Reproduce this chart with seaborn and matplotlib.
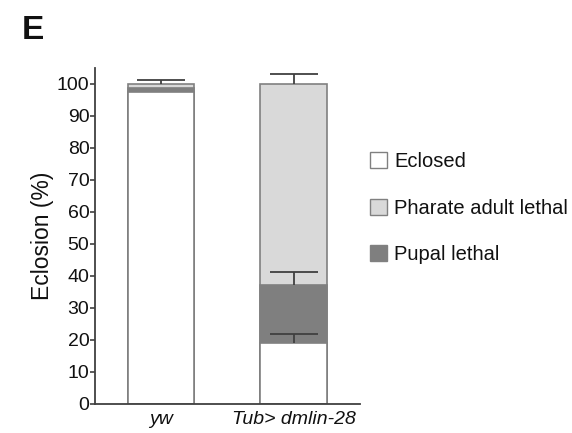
import matplotlib
matplotlib.use("Agg")
import matplotlib.pyplot as plt
import seaborn as sns
import pandas as pd
from matplotlib.patches import Patch

sns.set_theme(style="ticks")
plt.rcParams["font.family"] = ["Liberation Sans", "DejaVu Sans"]
plt.rcParams["text.color"] = "#111111"
plt.rcParams["axes.labelcolor"] = "#111111"
plt.rcParams["xtick.color"] = "#111111"
plt.rcParams["ytick.color"] = "#111111"

genotypes = ["yw", "Tub> dmlin-28"]
eclosed = [97.5, 19.0]
pupal_lethal = [1.3, 18.2]
pharate_lethal = [1.2, 62.8]
err_eclosed = [0.0, 3.0]
err_pupal = [0.0, 4.0]
err_total = [1.2, 3.0]

color_eclosed = "#ffffff"
color_pharate = "#d9d9d9"
color_pupal = "#7f7f7f"
edge = "#808080"

df = pd.DataFrame({
    "genotype": genotypes,
    "eclosed": eclosed,
    "pupal_top": [e + p for e, p in zip(eclosed, pupal_lethal)],
    "total": [e + p + h for e, p, h in zip(eclosed, pupal_lethal, pharate_lethal)],
})

fig = plt.figure(figsize=(5.72, 4.33), dpi=100)
ax = fig.add_axes([0.166, 0.067, 0.463, 0.776])

# stacked bars drawn as overlapping cumulative heights
for col, c in [("total", color_pharate), ("pupal_top", color_pupal), ("eclosed", color_eclosed)]:
    sns.barplot(data=df, x="genotype", y=col, color=c, width=0.5,
                edgecolor=edge, linewidth=1.2, saturation=1, ax=ax, errorbar=None)

# upward-only error bars at the top of each segment
for tops, errs in [(df["eclosed"], err_eclosed), (df["pupal_top"], err_pupal), (df["total"], err_total)]:
    for i, (t, e) in enumerate(zip(tops, errs)):
        if e > 0:
            _, caps, _ = ax.errorbar(i, t, yerr=[[0], [e]], fmt="none", ecolor="#404040",
                                     elinewidth=1.3, capsize=17, capthick=1.3)
            caps[0].set_visible(False)

ax.set_xlim(-0.5, 1.5)
ax.set_ylim(0, 105)
ax.set_yticks(range(0, 101, 10))
ax.set_xlabel("")
ax.set_ylabel("Eclosion (%)", fontsize=16.5, labelpad=2)
ax.tick_params(axis="y", labelsize=14, length=3.5, width=1.2, color="#404040", pad=0.5)
ax.tick_params(axis="x", length=0, labelsize=14, pad=5)
for lbl in ax.get_xticklabels():
    lbl.set_fontstyle("italic")
sns.despine(ax=ax)
for s in ["left", "bottom"]:
    ax.spines[s].set_color("#404040")
    ax.spines[s].set_linewidth(1.3)

handles = [
    Patch(facecolor=color_eclosed, edgecolor=edge, label="Eclosed"),
    Patch(facecolor=color_pharate, edgecolor=edge, label="Pharate adult lethal"),
    Patch(facecolor=color_pupal, edgecolor=edge, label="Pupal lethal"),
]
fig.legend(handles=handles, loc="upper left", bbox_to_anchor=(0.615, 0.69),
           frameon=False, fontsize=14.5, labelspacing=1.35, handlelength=0.85,
           handleheight=0.85, handletextpad=0.35)

fig.text(0.038, 0.93, "E", fontsize=24, fontweight="bold", va="center")

fig.savefig("out.png", dpi=100)
